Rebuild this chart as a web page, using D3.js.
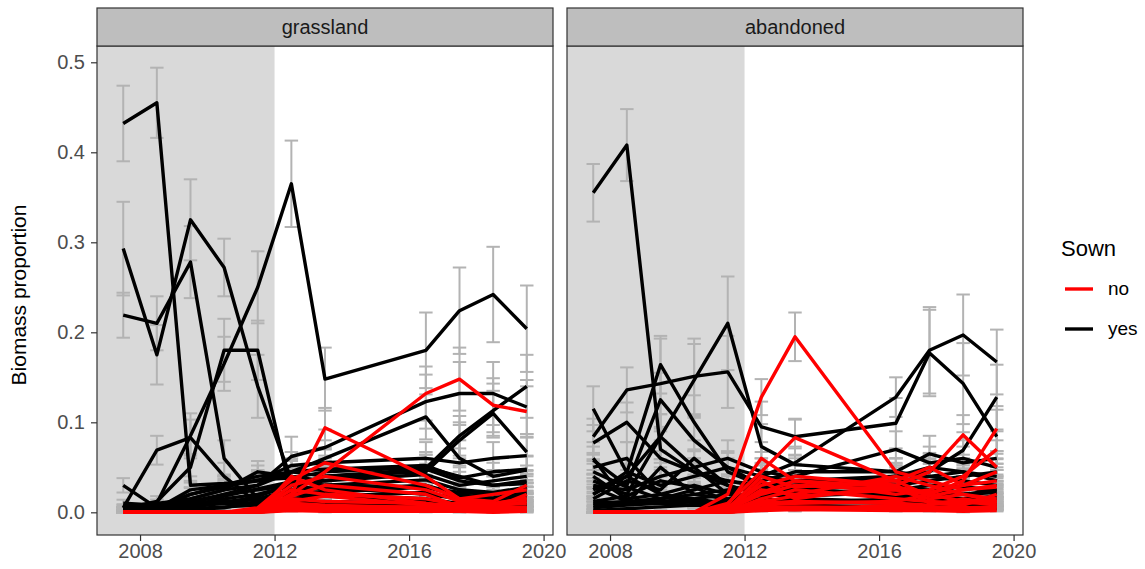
<!DOCTYPE html>
<html><head><meta charset="utf-8">
<script src="https://cdn.jsdelivr.net/npm/d3@7"></script>
<style>body{margin:0;background:#fff}text{font-family:"Liberation Sans",Arial,sans-serif}</style>
</head><body>
<svg id="c" width="1145" height="569"></svg>
<script>
const years=[2007.5,2008.5,2009.5,2010.5,2011.5,2012.5,2013.5,2016.5,2017.5,2018.5,2019.5];
const facets=["grassland","abandoned"];
const xTicks=[2008,2012,2016,2020];
const yTicks=[0,0.1,0.2,0.3,0.4,0.5];
const sownLevels=["no","yes"];
const shadeEnd=2012;

// grassland, sown = yes (black)
const grassYes=[
[0.432,0.455,0.030,0.032,0.035,0.045,0.040,0.048,0.035,0.030,0.032],
[0.293,0.175,0.325,0.272,0.140,0.036,0.030,0.028,0.022,0.020,0.025],
[0.219,0.210,0.278,0.060,0.015,0.025,0.028,0.020,0.015,0.012,0.018],
[0.004,0.012,0.050,0.180,0.180,0.020,0.018,0.012,0.010,0.010,0.012],
[0.004,0.010,0.085,0.165,0.250,0.365,0.148,0.180,0.224,0.242,0.204],
[0.005,0.069,0.083,0.040,0.010,0.012,0.010,0.008,0.008,0.006,0.008],
[0.030,0.005,0.010,0.012,0.010,0.015,0.020,0.015,0.010,0.010,0.010],
[0.003,0.005,0.010,0.020,0.030,0.062,0.072,0.123,0.132,0.132,0.117],
[0.003,0.004,0.015,0.025,0.030,0.045,0.060,0.106,0.060,0.040,0.047],
[0.002,0.004,0.008,0.015,0.020,0.030,0.035,0.049,0.085,0.113,0.140],
[0.002,0.003,0.006,0.010,0.018,0.030,0.040,0.045,0.080,0.110,0.067],
[0.004,0.006,0.020,0.030,0.035,0.052,0.055,0.060,0.055,0.060,0.063],
[0.002,0.004,0.025,0.030,0.040,0.045,0.048,0.052,0.038,0.045,0.048],
[0.006,0.010,0.015,0.025,0.045,0.040,0.035,0.042,0.030,0.035,0.040],
[0.003,0.008,0.012,0.020,0.025,0.030,0.025,0.030,0.020,0.015,0.020],
[0.002,0.005,0.008,0.012,0.015,0.020,0.018,0.022,0.015,0.012,0.015],
[0.010,0.008,0.012,0.010,0.008,0.010,0.012,0.010,0.008,0.005,0.008],
[0.001,0.002,0.004,0.006,0.008,0.010,0.008,0.012,0.010,0.008,0.010],
[0.004,0.003,0.020,0.028,0.036,0.038,0.045,0.050,0.040,0.030,0.035],
[0.002,0.002,0.005,0.018,0.026,0.034,0.030,0.036,0.025,0.022,0.028],
[0.001,0.001,0.003,0.005,0.012,0.024,0.022,0.028,0.018,0.016,0.022]
];
const grassYesErr=[
[0.042,0.039,0.010,0.010,0.010,0.012,0.010,0.012,0.010,0.010,0.010],
[0.052,0.033,0.045,0.032,0.035,0.012,0.010,0.010,0.008,0.008,0.008],
[0.025,0.030,0.040,0.020,0.006,0.010,0.010,0.008,0.006,0.005,0.006],
[0.002,0.006,0.015,0.035,0.033,0.008,0.006,0.005,0.004,0.004,0.005],
[0.002,0.004,0.025,0.030,0.040,0.048,0.035,0.042,0.048,0.053,0.048],
[0.003,0.016,0.020,0.015,0.005,0.005,0.004,0.004,0.004,0.003,0.004],
[0.008,0.003,0.004,0.005,0.004,0.006,0.006,0.005,0.004,0.004,0.004],
[0.002,0.003,0.004,0.008,0.010,0.022,0.020,0.030,0.035,0.035,0.030],
[0.002,0.002,0.006,0.010,0.012,0.015,0.020,0.025,0.020,0.015,0.015],
[0.001,0.002,0.004,0.006,0.008,0.010,0.012,0.015,0.022,0.030,0.035],
[0.001,0.002,0.003,0.004,0.006,0.010,0.012,0.015,0.020,0.025,0.020],
[0.002,0.003,0.008,0.010,0.012,0.015,0.015,0.018,0.016,0.018,0.020],
[0.001,0.002,0.008,0.010,0.012,0.014,0.015,0.015,0.012,0.014,0.015],
[0.003,0.004,0.006,0.008,0.012,0.012,0.010,0.012,0.010,0.012,0.012],
[0.002,0.003,0.005,0.007,0.008,0.010,0.008,0.010,0.008,0.006,0.008],
[0.001,0.002,0.003,0.005,0.006,0.008,0.006,0.008,0.006,0.005,0.006],
[0.004,0.003,0.005,0.004,0.003,0.004,0.005,0.004,0.003,0.002,0.003],
[0.001,0.001,0.002,0.003,0.003,0.004,0.003,0.005,0.004,0.003,0.004],
[0.002,0.002,0.007,0.009,0.010,0.012,0.012,0.014,0.012,0.010,0.011],
[0.001,0.001,0.003,0.006,0.008,0.010,0.009,0.010,0.008,0.007,0.008],
[0.001,0.001,0.002,0.002,0.004,0.008,0.007,0.008,0.006,0.005,0.007]
];
// grassland, sown = no (red)
const grassNo=[
[0,0,0,0,0.000,0.020,0.045,0.132,0.148,0.119,0.112],
[0,0,0,0,0.000,0.020,0.094,0.040,0.015,0.012,0.030],
[0,0,0,0,0.005,0.036,0.055,0.030,0.015,0.020,0.025],
[0,0,0,0,0.003,0.030,0.040,0.025,0.012,0.010,0.015],
[0,0,0,0,0.002,0.025,0.020,0.015,0.008,0.006,0.012],
[0,0,0,0,0.001,0.015,0.012,0.010,0.005,0.004,0.006],
[0,0,0,0,0.000,0.010,0.008,0.005,0.003,0.002,0.004],
[0,0,0,0,0.000,0.005,0.004,0.003,0.002,0.001,0.002],
[0,0,0,0,0.000,0.003,0.002,0.002,0.001,0.001,0.001],
[0,0,0,0,0.000,0.040,0.025,0.010,0.006,0.005,0.020],
[0,0,0,0,0.001,0.012,0.018,0.008,0.010,0.008,0.010],
[0,0,0,0,0.000,0.008,0.006,0.006,0.004,0.006,0.005],
[0,0,0,0,0.000,0.002,0.001,0.001,0.001,0.000,0.001],
[0,0,0,0,0.000,0.018,0.030,0.020,0.006,0.009,0.016]
];
const grassNoErr=[
[0,0,0,0,0.000,0.008,0.015,0.030,0.035,0.030,0.028],
[0,0,0,0,0.000,0.008,0.022,0.012,0.006,0.005,0.010],
[0,0,0,0,0.002,0.010,0.015,0.010,0.006,0.008,0.008],
[0,0,0,0,0.001,0.010,0.012,0.008,0.005,0.004,0.006],
[0,0,0,0,0.001,0.008,0.008,0.006,0.004,0.003,0.005],
[0,0,0,0,0.001,0.006,0.005,0.004,0.002,0.002,0.003],
[0,0,0,0,0.000,0.004,0.003,0.002,0.002,0.001,0.002],
[0,0,0,0,0.000,0.002,0.002,0.001,0.001,0.001,0.001],
[0,0,0,0,0.000,0.001,0.001,0.001,0.001,0.001,0.001],
[0,0,0,0,0.000,0.012,0.010,0.004,0.003,0.002,0.008],
[0,0,0,0,0.001,0.005,0.006,0.004,0.004,0.003,0.004],
[0,0,0,0,0.000,0.003,0.003,0.003,0.002,0.003,0.002],
[0,0,0,0,0.000,0.001,0.001,0.001,0.001,0.000,0.001],
[0,0,0,0,0.000,0.007,0.010,0.007,0.003,0.004,0.006]
];
// abandoned, sown = yes (black)
const abanYes=[
[0.355,0.408,0.070,0.045,0.035,0.030,0.030,0.025,0.020,0.020,0.022],
[0.020,0.040,0.084,0.147,0.210,0.073,0.053,0.045,0.040,0.035,0.030],
[0.084,0.136,0.143,0.151,0.156,0.095,0.084,0.099,0.177,0.143,0.084],
[0.115,0.044,0.164,0.100,0.045,0.030,0.025,0.018,0.015,0.012,0.015],
[0.077,0.100,0.060,0.045,0.030,0.020,0.022,0.020,0.018,0.015,0.018],
[0.058,0.030,0.125,0.080,0.050,0.030,0.025,0.020,0.015,0.012,0.010],
[0.010,0.012,0.015,0.020,0.025,0.030,0.035,0.040,0.045,0.069,0.128],
[0.008,0.010,0.012,0.015,0.020,0.040,0.055,0.128,0.180,0.197,0.167],
[0.030,0.025,0.040,0.050,0.060,0.045,0.040,0.070,0.055,0.060,0.050],
[0.025,0.040,0.020,0.030,0.020,0.035,0.045,0.045,0.065,0.055,0.060],
[0.060,0.010,0.050,0.020,0.015,0.025,0.030,0.035,0.040,0.045,0.035],
[0.015,0.035,0.025,0.060,0.030,0.020,0.025,0.030,0.025,0.020,0.025],
[0.005,0.008,0.010,0.012,0.010,0.015,0.012,0.010,0.008,0.006,0.008],
[0.040,0.015,0.020,0.015,0.010,0.012,0.015,0.012,0.010,0.008,0.012],
[0.002,0.004,0.006,0.008,0.006,0.008,0.006,0.005,0.004,0.003,0.004],
[0.050,0.060,0.020,0.010,0.008,0.010,0.008,0.006,0.005,0.004,0.005],
[0.035,0.020,0.084,0.050,0.020,0.018,0.020,0.025,0.030,0.028,0.025],
[0.020,0.045,0.030,0.040,0.050,0.040,0.035,0.030,0.035,0.040,0.045],
[0.045,0.028,0.015,0.025,0.035,0.028,0.030,0.040,0.050,0.045,0.040],
[0.012,0.018,0.035,0.028,0.012,0.020,0.018,0.022,0.020,0.030,0.020],
[0.028,0.012,0.010,0.008,0.015,0.012,0.010,0.015,0.012,0.010,0.015]
];
const abanYesErr=[
[0.032,0.040,0.020,0.015,0.012,0.010,0.010,0.010,0.008,0.008,0.008],
[0.008,0.012,0.025,0.040,0.052,0.025,0.018,0.015,0.014,0.012,0.012],
[0.020,0.025,0.050,0.042,0.040,0.028,0.020,0.028,0.048,0.045,0.030],
[0.025,0.015,0.032,0.030,0.015,0.010,0.008,0.008,0.006,0.005,0.006],
[0.020,0.022,0.020,0.015,0.012,0.008,0.008,0.008,0.007,0.006,0.007],
[0.015,0.010,0.030,0.025,0.018,0.012,0.010,0.008,0.006,0.005,0.005],
[0.005,0.006,0.006,0.008,0.010,0.012,0.012,0.015,0.015,0.020,0.036],
[0.004,0.004,0.005,0.006,0.008,0.015,0.018,0.022,0.048,0.045,0.036],
[0.012,0.010,0.015,0.018,0.020,0.015,0.014,0.020,0.018,0.020,0.018],
[0.010,0.014,0.008,0.012,0.008,0.012,0.015,0.015,0.020,0.018,0.020],
[0.018,0.005,0.018,0.008,0.006,0.010,0.010,0.012,0.014,0.015,0.012],
[0.006,0.012,0.010,0.020,0.012,0.008,0.010,0.010,0.010,0.008,0.010],
[0.002,0.004,0.004,0.005,0.004,0.006,0.005,0.004,0.004,0.003,0.004],
[0.014,0.006,0.008,0.006,0.004,0.005,0.006,0.005,0.004,0.004,0.005],
[0.001,0.002,0.003,0.004,0.003,0.004,0.003,0.002,0.002,0.002,0.002],
[0.016,0.018,0.008,0.004,0.004,0.004,0.004,0.003,0.002,0.002,0.002],
[0.012,0.008,0.025,0.018,0.008,0.007,0.008,0.009,0.010,0.010,0.009],
[0.008,0.015,0.010,0.014,0.016,0.014,0.012,0.010,0.012,0.014,0.015],
[0.014,0.010,0.006,0.009,0.012,0.010,0.010,0.014,0.016,0.015,0.014],
[0.005,0.007,0.012,0.010,0.005,0.008,0.007,0.008,0.008,0.010,0.008],
[0.010,0.005,0.004,0.003,0.006,0.005,0.004,0.006,0.005,0.004,0.006]
];
// abandoned, sown = no (red)
const abanNo=[
[0,0,0,0,0.020,0.128,0.195,0.045,0.035,0.025,0.030],
[0,0,0,0,0.010,0.045,0.083,0.035,0.050,0.030,0.045],
[0,0,0,0,0.005,0.030,0.040,0.030,0.045,0.086,0.050],
[0,0,0,0,0.003,0.020,0.030,0.025,0.020,0.035,0.093],
[0,0,0,0,0.008,0.060,0.035,0.020,0.025,0.040,0.070],
[0,0,0,0,0.002,0.025,0.020,0.040,0.030,0.020,0.015],
[0,0,0,0,0.001,0.015,0.025,0.015,0.012,0.010,0.012],
[0,0,0,0,0.001,0.010,0.012,0.010,0.008,0.015,0.010],
[0,0,0,0,0.000,0.005,0.006,0.005,0.004,0.003,0.005],
[0,0,0,0,0.000,0.035,0.015,0.030,0.010,0.008,0.020],
[0,0,0,0,0.004,0.040,0.028,0.035,0.018,0.025,0.028],
[0,0,0,0,0.000,0.002,0.003,0.002,0.002,0.001,0.002],
[0,0,0,0,0.002,0.012,0.018,0.025,0.015,0.020,0.012],
[0,0,0,0,0.001,0.008,0.010,0.012,0.020,0.012,0.008],
[0,0,0,0,0.000,0.004,0.003,0.008,0.006,0.005,0.006],
[0,0,0,0,0.003,0.022,0.035,0.028,0.022,0.030,0.035]
];
const abanNoErr=[
[0,0,0,0,0.008,0.020,0.027,0.015,0.012,0.010,0.010],
[0,0,0,0,0.004,0.015,0.020,0.012,0.015,0.010,0.014],
[0,0,0,0,0.002,0.010,0.012,0.010,0.014,0.022,0.015],
[0,0,0,0,0.001,0.008,0.010,0.008,0.008,0.012,0.025],
[0,0,0,0,0.003,0.018,0.012,0.008,0.008,0.012,0.020],
[0,0,0,0,0.001,0.008,0.008,0.012,0.010,0.008,0.006],
[0,0,0,0,0.001,0.006,0.008,0.006,0.005,0.004,0.005],
[0,0,0,0,0.001,0.004,0.005,0.004,0.003,0.006,0.004],
[0,0,0,0,0.000,0.002,0.003,0.002,0.002,0.001,0.002],
[0,0,0,0,0.000,0.012,0.006,0.010,0.004,0.003,0.008],
[0,0,0,0,0.002,0.012,0.010,0.012,0.007,0.008,0.010],
[0,0,0,0,0.000,0.001,0.001,0.001,0.001,0.001,0.001],
[0,0,0,0,0.001,0.005,0.007,0.009,0.006,0.008,0.005],
[0,0,0,0,0.001,0.003,0.004,0.005,0.008,0.005,0.003],
[0,0,0,0,0.000,0.002,0.002,0.003,0.003,0.002,0.003],
[0,0,0,0,0.002,0.008,0.012,0.010,0.008,0.010,0.012]
];

const colors={no:"#ff0000",yes:"#000000"};
const svg=d3.select("#c");
const panelTop=46, panelBottom=535, stripTop=8;
const panelsX=[[97,553],[567,1023]];
const data=[
  {name:facets[0],yes:grassYes,yesErr:grassYesErr,no:grassNo,noErr:grassNoErr},
  {name:facets[1],yes:abanYes,yesErr:abanYesErr,no:abanNo,noErr:abanNoErr}
];
const y=d3.scaleLinear().domain([-0.0252,0.5181]).range([panelBottom,panelTop]);
const fontAxis=20;

data.forEach((p,i)=>{
  const [x0,x1]=panelsX[i];
  const x=d3.scaleLinear().domain([2006.72,2020.28]).range([x0,x1]);
  const g=svg.append("g");
  g.append("rect").attr("x",x0).attr("y",panelTop).attr("width",x1-x0).attr("height",panelBottom-panelTop).attr("fill","#fff");
  g.append("rect").attr("x",x0).attr("y",panelTop).attr("width",x(shadeEnd)-x0).attr("height",panelBottom-panelTop).attr("fill","#d9d9d9");
  const groups=[];
  p.yes.forEach((s,k)=>groups.push({vals:s,err:p.yesErr[k],sown:"yes"}));
  p.no.forEach((s,k)=>groups.push({vals:s,err:p.noErr[k],sown:"no"}));
  const eb=g.append("g").attr("stroke","#b3b3b3").attr("stroke-width",2).attr("fill","none");
  groups.forEach(gr=>{
    gr.vals.forEach((v,j)=>{
      const e=gr.err[j];
      const cx=x(years[j]), hw=(x(years[j]+0.2)-x(years[j]));
      const lo=y(v-e), hi=y(v+e);
      eb.append("line").attr("x1",cx).attr("x2",cx).attr("y1",lo).attr("y2",hi);
      eb.append("line").attr("x1",cx-hw).attr("x2",cx+hw).attr("y1",lo).attr("y2",lo);
      eb.append("line").attr("x1",cx-hw).attr("x2",cx+hw).attr("y1",hi).attr("y2",hi);
    });
  });
  const line=d3.line().x((d,j)=>x(years[j])).y(d=>y(d));
  ["yes","no"].forEach(sw=>{
    groups.filter(gr=>gr.sown===sw).forEach(gr=>{
      g.append("path").attr("d",line(gr.vals)).attr("fill","none")
        .attr("stroke",colors[sw]).attr("stroke-width",3.4).attr("stroke-linejoin","round");
    });
  });
  g.append("rect").attr("x",x0).attr("y",panelTop).attr("width",x1-x0).attr("height",panelBottom-panelTop).attr("fill","none").attr("stroke","#333").attr("stroke-width",1.2);
  g.append("rect").attr("x",x0).attr("y",stripTop).attr("width",x1-x0).attr("height",panelTop-stripTop).attr("fill","#bebebe").attr("stroke","#333").attr("stroke-width",1.2);
  g.append("text").attr("x",(x0+x1)/2).attr("y",(stripTop+panelTop)/2+7).attr("text-anchor","middle").attr("font-size",20).attr("fill","#1a1a1a").text(p.name);
  const xa=g.append("g").attr("transform",`translate(0,${panelBottom})`)
    .call(d3.axisBottom(x).tickValues(xTicks).tickFormat(d3.format("d")).tickSize(6).tickPadding(3));
  xa.select(".domain").remove();
  xa.selectAll(".tick line").attr("stroke","#333").attr("stroke-width",1.2);
  xa.selectAll("text").attr("font-size",fontAxis).attr("fill","#4d4d4d").attr("font-family","Liberation Sans, Arial, sans-serif");
  if(i===0){
    const ya=g.append("g").attr("transform",`translate(${x0},0)`)
      .call(d3.axisLeft(y).tickValues(yTicks).tickFormat(d3.format(".1f")).tickSize(6).tickPadding(6));
    ya.select(".domain").remove();
    ya.selectAll(".tick line").attr("stroke","#333").attr("stroke-width",1.2);
    ya.selectAll("text").attr("font-size",fontAxis).attr("fill","#4d4d4d").attr("font-family","Liberation Sans, Arial, sans-serif");
  }
});

svg.append("text").attr("transform","translate(26,295) rotate(-90)").attr("text-anchor","middle").attr("font-size",21).attr("fill","#000").text("Biomass proportion");

const lg=svg.append("g");
lg.append("text").attr("x",1061).attr("y",256).attr("font-size",22).attr("fill","#000").text("Sown");
sownLevels.forEach((s,k)=>{
  const cy=289+k*40;
  lg.append("line").attr("x1",1065).attr("x2",1093).attr("y1",cy).attr("y2",cy).attr("stroke",colors[s]).attr("stroke-width",3.4);
  lg.append("text").attr("x",1108).attr("y",cy+6).attr("font-size",19).attr("fill","#000").text(s);
});
</script>
</body></html>
